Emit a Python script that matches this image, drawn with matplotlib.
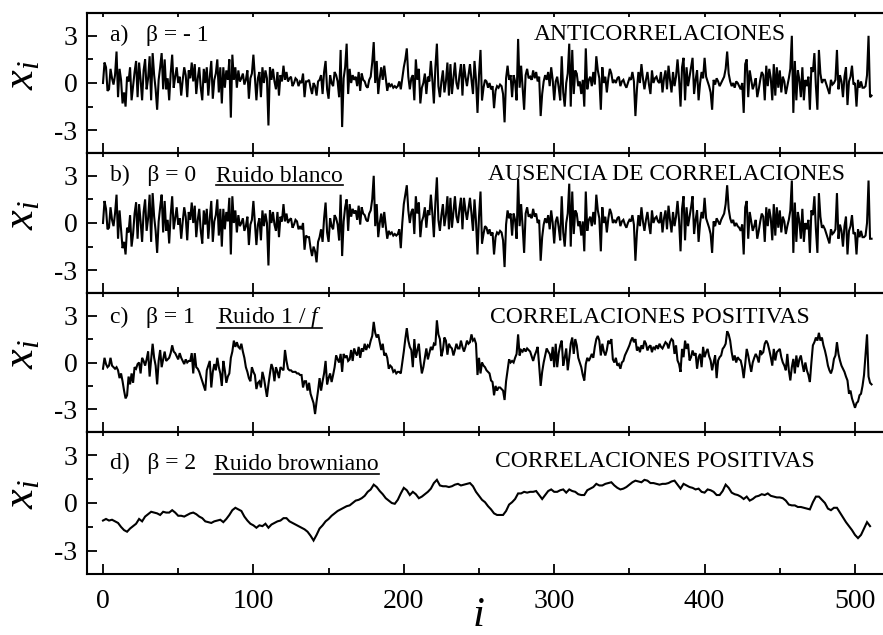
import numpy as np
import matplotlib
matplotlib.use("Agg")
import matplotlib.pyplot as plt
from matplotlib.lines import Line2D
from matplotlib.ticker import MultipleLocator

plt.rcParams["font.family"] = "Liberation Serif"
plt.rcParams["mathtext.fontset"] = "custom"
plt.rcParams["mathtext.rm"] = "Liberation Serif"
plt.rcParams["mathtext.it"] = "Liberation Serif:italic"
plt.rcParams["axes.unicode_minus"] = False

# ---- series (one value per index i = 0..511) ----
anticorr = [
    0.0, 1.3, 1.0, -0.5, -0.4, 0.9, 0.3, -0.1, 0.5, 2.0, -0.9, 0.9, 0.2, -1.3, -0.6, -1.5,
    0.4, 0.1, 1.0, -1.1, -0.2, 0.7, 1.4, -0.9, 1.3, 0.2, -1.1, 0.8, 1.5, -0.4, 0.3, 1.7,
    -1.1, 1.9, 0.5, -0.4, -1.7, 0.2, 1.0, 1.9, -0.4, 1.5, -0.4, 0.3, -1.1, 0.6, 1.8, -0.3,
    0.4, 1.0, 0.0, 0.4, -0.8, 0.2, 1.0, 0.5, -0.9, 0.8, 0.3, 1.3, 0.1, 1.2, -0.7, 0.3,
    1.0, -0.3, -1.1, 0.9, 0.0, 1.0, -0.8, 0.4, 1.4, -1.0, 0.2, 0.6, 1.5, -0.6, 1.0, -1.3,
    1.0, -0.3, 0.8, 0.2, 1.5, -2.2, 1.8, 0.2, 1.0, -0.3, 0.8, 0.1, 0.3, 0.6, -0.1, 0.2,
    0.8, -1.0, 0.3, 0.6, 1.8, 0.4, -1.1, 0.3, 0.7, -0.9, 1.0, 0.0, 0.8, 0.3, -2.7, 1.0,
    0.2, 0.9, 0.1, -0.4, 0.7, -0.8, 0.5, 0.1, 1.1, 0.2, 0.7, 0.1, 0.3, 0.4, -0.2, 0.0,
    0.3, 0.2, -0.2, 0.1, 0.0, 0.6, -0.9, 0.1, 0.1, 0.2, -0.3, -0.7, 0.0, -0.2, -0.8, 0.1,
    0.2, 0.5, -0.7, 0.7, 1.4, -0.4, -1.0, 0.5, 0.0, -0.2, 0.7, 0.5, 0.1, -0.9, 2.1, -2.8,
    0.3, 1.0, 2.5, -0.7, 0.9, 0.0, 0.5, 0.2, 0.4, -0.2, 0.7, -0.5, 0.6, 0.2, 0.1, -0.2,
    -0.3, 0.2, 0.4, 1.3, 2.6, 0.0, 1.4, -0.7, 0.3, 1.0, 0.2, 1.1, 0.3, -0.5, 0.0, -0.2,
    -0.1, -0.3, -0.2, -0.3, -0.2, 0.1, -0.4, 0.3, 1.0, 1.5, 2.2, 0.4, -0.4, 0.3, 0.5, -1.1,
    1.5, 0.2, 0.9, -1.3, -0.3, 0.0, 0.6, -0.7, 0.4, 0.1, 1.4, 0.2, -1.3, 1.0, 2.5, -0.2,
    -0.9, 0.1, 0.8, -0.6, 0.1, 1.3, -0.8, 1.2, -0.7, 0.3, 1.3, 0.0, -0.4, 0.5, 1.2, -0.8,
    1.2, 0.4, -0.2, 0.5, 1.2, 0.2, -0.7, 1.4, 0.2, -1.9, 0.5, 2.1, -1.1, -0.3, 0.2, 0.1,
    -0.3, 0.0, -0.4, -0.2, -1.6, -0.5, -0.2, -0.3, -0.1, -0.2, -0.7, -2.5, 0.3, 1.1, 0.2, 0.5,
    -0.9, 0.5, 0.1, -1.1, 2.8, -0.3, 1.1, -0.3, -1.7, 0.5, 0.9, 0.3, 0.4, 0.2, 0.8, 0.3,
    0.7, 0.1, 0.4, -2.1, -0.7, 0.1, 0.5, 0.2, 0.7, -0.2, 1.0, 0.2, -1.1, 0.1, 0.4, -0.3,
    -1.1, 1.7, -0.6, -1.5, 0.0, 0.6, 2.5, -1.5, 2.1, -0.7, 0.8, 0.6, -0.2, 0.1, -0.7, 0.2,
    -1.5, 2.2, -0.4, 0.2, 0.4, -0.2, 0.7, -0.1, 1.7, 0.8, 0.3, -1.7, 1.0, 0.0, 0.4, -0.6,
    0.3, 0.9, 0.6, 0.0, 0.2, 0.0, 0.3, 0.4, -0.2, 0.1, 0.2, -0.1, -0.3, 0.0, 0.3, 0.2,
    0.7, 0.1, -2.1, -0.4, 0.7, 0.0, 1.2, 0.3, -0.4, 0.2, 0.7, -0.1, -0.7, 0.8, 0.0, 0.3,
    0.4, 0.1, 0.0, 0.7, -0.6, 0.3, 0.8, -0.4, 1.1, 0.2, -0.6, 0.7, -0.2, 0.4, 1.5, 0.3,
    -1.5, 1.0, 1.6, -1.1, 1.0, -0.2, 0.4, 1.0, 1.6, -0.7, 0.2, 0.8, -1.1, 0.0, 0.7, 0.3,
    1.6, 0.4, 0.1, -0.2, -0.6, -1.7, 0.2, -0.1, 0.3, 0.1, -0.2, 0.0, 0.2, 0.4, 0.9, 2.0,
    0.6, 0.1, -0.2, 0.0, -0.3, 0.1, 0.0, -0.2, -0.4, 0.0, -1.9, 1.2, 1.5, -0.9, 0.8, 0.2,
    -0.4, -0.1, 0.3, -0.9, -0.4, 0.2, 0.7, 0.5, -1.1, 1.1, -0.2, 0.9, 0.3, -1.1, 1.2, -0.8,
    1.0, -0.3, 0.8, -0.6, 0.4, 0.1, -0.7, -0.2, 0.3, 0.9, 3.0, -1.9, 1.4, -1.1, 0.8, 0.2,
    -0.9, 1.0, -1.1, 0.2, -0.2, 0.4, -1.7, 1.0, 0.7, 1.9, -0.2, -1.7, 2.1, 0.6, 0.0, 0.2,
    0.2, -0.1, -0.4, -0.7, 0.2, -0.1, 0.0, 0.2, 2.1, -0.4, 0.5, 0.1, -0.9, 0.4, 1.0, -1.4,
    0.1, 0.4, 1.1, -0.1, 0.0, -1.5, 0.2, -0.3, 0.1, -0.3, -0.3, -0.2, 0.5, 3.0, -0.9, -0.8,
]

white = [
    0.0, 1.4, 0.9, -0.4, -0.3, 1.0, 0.2, -0.2, 0.6, 1.8, -1.0, 0.8, -0.4, -1.6, -1.2, -2.0,
    -0.3, -0.6, 0.5, -1.5, -0.7, 0.6, 1.3, -1.0, 1.2, 0.1, -1.2, 0.7, 1.5, -0.5, 0.3, 1.8,
    -1.2, 1.9, 0.4, -0.5, -1.9, 0.1, 1.0, 1.8, -0.6, 1.4, -0.5, 0.2, -1.3, 0.5, 1.7, -0.4,
    0.3, 1.0, -0.1, 0.3, -1.0, 0.1, 1.0, 0.4, -1.1, 0.7, 0.2, 1.3, 0.0, 1.1, -0.9, 0.2,
    0.9, -0.5, -1.3, 0.8, -0.1, 0.9, -1.0, 0.3, 1.4, -1.2, 0.1, 0.5, 1.5, -0.8, 0.9, -1.5,
    0.9, -0.4, 0.7, 0.1, 1.6, -2.0, 1.7, 0.0, 0.8, -0.6, 0.5, -0.2, 0.0, 0.3, -0.5, -0.2,
    0.4, -1.4, -0.1, 0.2, 1.4, 0.0, -1.4, -0.1, 0.3, -1.1, 0.8, -0.2, 0.6, 0.0, -2.7, 0.8,
    0.0, 0.7, -0.1, -0.5, 0.7, -0.9, 0.4, 0.1, 1.2, 0.1, 0.6, 0.0, 0.2, 0.3, -0.3, -0.1,
    0.2, 0.1, -0.4, -0.2, -0.4, 0.0, -1.7, -0.8, -0.9, -0.9, -1.6, -2.1, -1.5, -1.8, -2.5, -1.2,
    -0.9, -0.4, -1.2, 0.3, 1.3, -0.6, -1.2, 0.3, -0.2, -0.4, 0.5, 0.3, -0.1, -1.1, 1.8, -2.1,
    0.1, 1.0, 1.5, -0.5, 1.2, 0.4, 0.9, 0.6, 0.8, 0.2, 1.1, -0.1, 1.0, 0.6, 0.5, 0.2,
    0.1, 0.6, 0.8, 1.5, 3.0, -0.2, 1.2, -0.9, 0.0, 0.6, -0.3, 0.7, -0.2, -1.0, -0.5, -0.7,
    -0.6, -0.8, -0.7, -0.8, -0.7, -0.4, -1.6, 0.0, 1.2, 1.8, 2.4, 0.8, 0.0, 0.7, 0.9, -0.7,
    1.7, 0.6, 1.3, -0.9, 0.1, 0.4, 1.0, -0.3, 0.8, 0.5, 1.8, 0.6, -0.9, 1.3, 2.9, 0.2,
    -0.5, 0.5, 1.2, -0.2, 0.5, 1.7, -0.4, 1.6, -0.3, 0.7, 1.7, 0.4, 0.0, 0.9, 1.6, -0.4,
    1.6, 0.8, 0.2, 0.9, 1.6, 0.6, -0.5, 1.5, 0.1, -2.0, 0.4, 2.0, -1.3, -0.7, -0.2, -0.3,
    -0.7, -0.4, -0.8, -0.6, -2.0, -0.9, -0.6, -0.7, -0.5, -0.6, -1.1, -2.8, -0.1, 0.8, 0.3, 0.6,
    -0.8, 0.6, 0.2, -1.0, 2.8, -0.2, 1.2, -0.2, -1.9, 0.6, 1.0, 0.4, 0.5, 0.3, 0.9, 0.4,
    0.6, 0.0, 0.2, -2.4, -0.9, -0.1, 0.3, 0.0, 0.5, -0.4, 0.8, 0.0, -1.3, 0.1, 0.4, -0.3,
    -1.1, 1.7, -0.6, -1.5, 0.0, 0.6, 2.5, -1.5, 2.0, -0.7, 0.8, 0.6, -0.2, 0.1, -0.8, 0.1,
    -1.8, 2.0, -0.5, 0.2, 0.4, -0.2, 0.7, -0.1, 1.8, 0.8, 0.3, -1.8, 1.0, 0.0, 0.4, -0.6,
    0.3, 0.9, 0.6, 0.0, 0.2, 0.0, 0.3, 0.4, -0.2, 0.1, 0.2, -0.1, -0.3, 0.0, 0.2, 0.1,
    0.5, -0.1, -2.4, -0.6, 0.5, -0.2, 1.0, 0.1, -0.5, 0.2, 0.7, -0.1, -0.7, 0.8, 0.0, 0.3,
    0.4, 0.1, 0.0, 0.7, -0.6, 0.3, 0.8, -0.4, 1.1, 0.2, -0.6, 0.7, -0.2, 0.4, 1.4, 0.2,
    -1.8, 0.9, 1.7, -1.1, 1.0, -0.2, 0.4, 1.0, 1.7, -0.7, 0.2, 0.8, -1.2, 0.0, 0.7, 0.3,
    1.6, 0.3, 0.0, -0.3, -0.7, -1.9, 0.1, -0.2, 0.3, 0.1, -0.1, 0.2, 0.4, 0.6, 1.2, 2.4,
    0.9, 0.3, 0.0, 0.2, -0.2, 0.0, -0.2, -0.3, -0.5, -0.1, -2.0, 1.0, 1.4, -1.0, 0.7, 0.1,
    -0.5, -0.2, 0.2, -1.0, -0.5, 0.1, 0.6, 0.4, -1.2, 1.0, -0.2, 0.9, 0.3, -1.1, 1.2, -0.8,
    1.0, -0.3, 0.8, -0.6, 0.4, 0.1, -0.7, -0.2, 0.2, 0.8, 2.7, -1.9, 1.3, -1.2, 0.7, 0.1,
    -1.0, 0.9, -1.2, 0.0, -0.4, 0.2, -1.9, 0.8, 0.5, 1.7, -0.4, -1.9, 1.9, 0.4, -0.3, -0.2,
    -0.4, -0.7, -1.0, -1.3, -0.4, -0.7, -0.6, -0.4, 1.9, -1.0, -0.1, -0.5, -1.5, -0.2, 0.4, -2.0,
    -0.5, -0.2, 0.5, -0.7, -0.6, -2.0, -0.4, -0.9, -0.5, -0.9, -0.9, -0.8, 0.0, 2.7, -1.0, -1.0,
]

pink = [
    -0.4, 0.3, -0.1, -0.3, -0.2, 0.3, -0.2, -0.3, -0.4, -0.3, -0.5, -1.0, -0.7, -1.2, -1.8, -2.3,
    -2.1, -0.9, -1.4, -0.7, -1.3, -0.3, -0.4, -0.1, 0.0, -0.7, 0.3, 0.1, -0.2, 0.2, 0.7, -0.9,
    0.2, 1.2, 0.3, -0.2, -1.4, 0.1, 0.8, -0.3, 0.2, 0.7, 0.1, 0.2, 0.3, 0.6, 1.1, 0.7,
    0.6, 0.4, 0.2, 0.6, 0.3, 0.1, -0.1, 0.2, 0.0, 0.1, 0.1, 0.6, -0.7, 0.6, -0.3, -0.4,
    -0.6, -0.9, -1.2, -1.5, -1.8, -0.5, -0.2, 0.1, -1.6, -0.6, -0.1, -0.5, 0.3, -0.3, -0.7, -1.5,
    0.1, -0.5, -1.3, -0.9, -0.7, 0.3, 0.7, 1.4, 1.0, 1.3, 1.0, 0.9, 1.2, 0.7, 0.3, -0.3,
    -0.6, -1.0, -1.2, -0.3, -0.6, -0.8, -1.7, -1.3, -1.2, -1.6, -0.6, -1.0, -1.6, -2.2, -1.4, -0.7,
    -0.1, -0.4, -1.2, -0.3, -0.6, -1.0, -0.3, -0.4, -0.5, 0.8, 0.1, -0.4, -0.5, -0.5, -0.6, -0.6,
    -0.6, -0.7, -0.7, -0.8, -0.8, -1.6, -1.2, -1.2, -1.8, -1.3, -2.0, -2.3, -2.6, -3.3, -2.5, -1.8,
    -1.0, -1.8, -1.2, -0.7, 0.1, -1.4, -1.0, -0.7, -1.25, -0.8, -0.3, 0.45, 0.2, 0.0, 0.55, -0.6,
    0.55, 0.3, 0.45, 0.1, 0.2, 0.8, 0.1, 0.9, 0.6, 0.45, 1.0, 0.3, 0.9, 0.7, 1.2, 0.8,
    1.1, 1.0, 1.4, 1.7, 2.6, 1.9, 1.6, 1.8, 1.3, 0.8, 1.2, 0.45, 0.6, 0.3, -0.4, -0.2,
    -0.3, -0.6, -0.5, -0.7, -0.6, -0.6, -0.7, 0.0, 0.7, 1.5, 2.2, 1.4, 1.0, 0.8, -0.3, 1.5,
    0.3, 0.8, 1.2, 0.1, -0.7, -0.3, 0.3, 0.9, 0.2, 0.6, 1.0, 0.8, 1.2, 1.1, 2.7, 1.8,
    1.5, 0.4, 0.8, 1.6, 1.4, 0.5, 1.2, 1.0, 0.9, 0.45, 0.8, 1.2, 0.9, 0.9, 1.4, 1.0,
    0.7, 1.0, 1.4, 1.2, 1.3, 1.8, 1.4, 1.5, 1.2, -0.8, 0.3, -0.7, 0.0, -0.2, -0.3, -0.5,
    -0.6, -0.7, -1.15, -1.25, -2.1, -1.5, -1.8, -1.6, -1.6, -1.7, -1.8, -2.4, -1.2, -0.5, 0.2, 0.0,
    0.1, 0.0, 0.3, 0.55, 1.8, 0.45, 0.8, 0.7, 0.9, 0.7, 0.9, 0.8, 0.7, 0.4, 0.1, 0.45,
    0.7, 1.0, -0.2, -1.5, -0.6, 0.0, 0.45, 0.9, 0.7, 0.55, 0.1, 1.0, -0.3, 1.2, -0.3, 0.6,
    1.1, 1.4, -0.2, 0.3, 0.9, -0.5, 0.3, 1.2, 1.6, 0.55, 1.5, 1.1, 0.3, 0.0, -0.3, -0.8,
    -1.15, -0.1, 0.3, 0.1, 0.3, 0.55, 0.3, 1.0, 1.5, 1.7, 1.4, 0.45, 1.2, 0.7, 0.45, 0.8,
    1.4, 1.2, 1.5, 0.2, 0.0, 0.3, -0.2, -0.1, -0.4, 0.0, 0.1, 0.45, 0.66, 0.87, 1.1, 1.4,
    1.6, 1.3, 1.5, 0.77, 1.0, 0.66, 1.1, 0.87, 1.4, 1.2, 0.77, 1.0, 1.1, 0.66, 1.0, 0.87,
    1.1, 0.87, 1.2, 1.0, 0.9, 1.1, 1.3, 1.2, 0.9, 1.3, 1.5, 1.4, 0.55, 1.1, 0.13, -0.1,
    -0.6, 0.87, 0.34, 1.4, 0.87, 1.2, 0.13, 0.34, 0.77, 0.45, 0.6, -0.4, 0.34, 0.55, -0.3, 1.0,
    0.34, 0.66, 0.87, 0.4, 0.13, -0.5, 0.0, 0.45, -1.0, 0.13, 0.34, 0.45, 0.87, 1.0, 1.2, 2.0,
    1.8, 1.4, 0.66, 0.13, 0.45, 0.0, 0.34, 0.2, 0.13, -0.3, -1.0, -0.1, 0.87, 0.45, -0.1, -0.6,
    0.0, 0.3, 0.55, 0.34, 0.0, 0.77, 0.55, 0.66, 1.2, 1.4, 1.2, 0.8, 0.34, -0.2, 0.87, 0.13,
    0.66, 0.77, 0.87, 0.34, 0.0, -0.2, -0.5, 0.55, -0.5, -1.15, -0.3, 0.23, -0.7, 0.45, -0.3, 0.2,
    0.45, -0.1, -0.6, 0.0, -0.5, -0.8, -1.25, 0.0, 1.1, 1.3, 1.6, 1.4, 1.9, 1.4, 1.6, 1.1,
    0.77, 0.34, -0.2, -0.5, -0.7, -0.4, 0.23, 0.45, 1.3, 0.55, 0.13, -0.2, -0.4, -0.6, -0.9, -1.15,
    -2.0, -1.8, -2.3, -2.6, -2.9, -2.6, -2.5, -2.1, -2.0, -1.5, -0.8, 0.5, 1.8, -0.9, -1.3, -1.4,
]

# brownian series, read at every second index (i = 0, 2, ..., 510)
brown = [
    -1.1, -1.0, -1.1, -1.05, -1.15, -1.25, -1.5, -1.7, -1.8, -1.6, -1.45, -1.3, -1.0, -1.15, -0.85, -0.7,
    -0.55, -0.6, -0.65, -0.75, -0.55, -0.6, -0.6, -0.45, -0.6, -0.8, -0.8, -0.85, -0.75, -0.65, -0.6, -0.7,
    -0.85, -0.95, -1.15, -1.2, -1.25, -1.15, -1.1, -1.05, -1.2, -1.0, -0.75, -0.45, -0.3, -0.4, -0.5, -0.85,
    -1.1, -1.3, -1.4, -1.55, -1.4, -1.45, -1.3, -1.55, -1.35, -1.25, -1.15, -1.1, -0.95, -0.95, -1.15, -1.25,
    -1.35, -1.45, -1.55, -1.65, -1.8, -2.05, -2.35, -2.0, -1.6, -1.4, -1.15, -1.0, -0.8, -0.65, -0.5, -0.4,
    -0.3, -0.2, -0.15, 0.0, 0.15, 0.2, 0.3, 0.45, 0.7, 0.85, 1.15, 1.0, 0.75, 0.55, 0.3, 0.15,
    0.0, -0.05, 0.2, 0.6, 0.95, 0.8, 0.5, 0.7, 0.55, 0.3, 0.4, 0.55, 0.7, 0.9, 1.25, 1.45,
    1.1, 1.05, 1.05, 1.0, 1.05, 1.15, 1.2, 1.1, 1.15, 1.2, 1.25, 1.05, 0.7, 0.45, 0.2, 0.05,
    -0.2, -0.4, -0.65, -0.75, -0.75, -0.75, -0.5, -0.1, 0.05, 0.25, 0.6, 0.6, 0.7, 0.65, 0.7, 0.7,
    0.75, 0.5, 0.25, 0.5, 0.75, 0.85, 0.7, 0.7, 0.8, 0.85, 0.65, 0.85, 0.75, 0.7, 0.55, 0.5,
    0.5, 0.8, 0.9, 1.0, 1.2, 1.1, 1.1, 1.2, 1.25, 1.3, 1.1, 0.95, 0.85, 0.9, 1.0, 1.15,
    1.3, 1.4, 1.35, 1.3, 1.45, 1.4, 1.25, 1.25, 1.2, 1.15, 1.2, 1.2, 1.25, 1.35, 1.4, 1.15,
    0.9, 1.2, 1.1, 1.0, 0.95, 0.85, 0.9, 0.7, 0.65, 0.85, 0.8, 0.7, 0.5, 0.5, 0.75, 1.15,
    0.95, 0.65, 0.55, 0.5, 0.4, 0.25, 0.4, 0.15, 0.25, 0.4, 0.45, 0.55, 0.5, 0.6, 0.45, 0.4,
    0.35, 0.35, 0.3, 0.15, -0.1, -0.15, -0.15, -0.25, -0.25, -0.3, -0.35, -0.4, 0.05, 0.4, 0.4, 0.2,
    0.0, -0.35, -0.45, -0.3, -0.3, -0.6, -0.9, -1.2, -1.45, -1.7, -2.0, -2.2, -2.0, -1.6, -1.2, -1.45,
]

x_ticks = [0, 100, 200, 300, 400, 500]
y_ticks = [-3, 0, 3]

panels = [
    dict(idx=np.arange(len(anticorr)), y=anticorr, label="a)   \u03b2 = - 1", noise=None,
         desc="ANTICORRELACIONES"),
    dict(idx=np.arange(len(white)), y=white, label="b)   \u03b2 = 0", noise="Ruido blanco",
         desc="AUSENCIA DE CORRELACIONES"),
    dict(idx=np.arange(len(pink)), y=pink, label="c)   \u03b2 = 1", noise="Ruido 1 / $f$",
         desc="CORRELACIONES POSITIVAS"),
    dict(idx=np.arange(0, 2 * len(brown), 2), y=brown, label="d)   \u03b2 = 2",
         noise="Ruido browniano", desc="CORRELACIONES POSITIVAS"),
]

# ---- layout (pixels) ----
W, H = 883, 635
LEFT, RIGHT = 87, 896
X0_PX, PX_PER_UNIT = 103, 1.504
frames = [(13, 153), (153, 293), (293, 432), (432, 574)]
label_base = [41.5, 181.5, 323, 469.5]
noise_x = [None, 216, 217, 214]
underline_y = [None, 184.5, 327.5, 473.5]
desc_center = [(660, 39.5), (666, 180), (650, 323), (655, 467)]

fig = plt.figure(figsize=(W / 100, H / 100), dpi=100)
xlim = ((LEFT - X0_PX) / PX_PER_UNIT, (RIGHT - X0_PX) / PX_PER_UNIT)

noise_texts = []
for k, (p, (top, bot)) in enumerate(zip(panels, frames)):
    ax = fig.add_axes([LEFT / W, 1 - bot / H, (RIGHT - LEFT) / W, (bot - top) / H])
    ax.plot(p["idx"], p["y"], color="black", lw=1.5, solid_joinstyle="miter")
    ax.set_xlim(*xlim)
    ax.set_ylim(-4.45, 4.45)
    ax.set_xticks(x_ticks)
    ax.xaxis.set_minor_locator(MultipleLocator(50))
    ax.set_yticks(y_ticks)
    ax.yaxis.set_minor_locator(MultipleLocator(1.5))
    ax.tick_params(which="both", direction="in", width=1.3, top=False, right=False)
    ax.tick_params(which="major", length=7.5)
    ax.tick_params(which="minor", length=4)
    ax.tick_params(axis="y", labelsize=20, pad=7)
    ax.tick_params(axis="x", labelsize=20, pad=11)
    if k < 3:
        ax.tick_params(axis="x", labelbottom=False)
    for s in ax.spines.values():
        s.set_linewidth(1.5)
    top_ax = ax.secondary_xaxis("top")
    top_ax.set_xticks(x_ticks)
    top_ax.xaxis.set_minor_locator(MultipleLocator(50))
    top_ax.tick_params(which="both", direction="in", length=3.2, width=1.3, labeltop=False)
    top_ax.spines["top"].set_linewidth(1.5)

    ax.set_ylabel(r"$x_i$", fontsize=32, labelpad=0)
    ax.yaxis.set_label_coords((42 - LEFT) / (RIGHT - LEFT), 0.56)

    fig.text(110 / W, 1 - label_base[k] / H, p["label"], fontsize=17,
             ha="left", va="baseline")
    if p["noise"]:
        t = fig.text(noise_x[k] / W, 1 - label_base[k] / H, p["noise"], fontsize=17,
                     ha="left", va="baseline")
        noise_texts.append((t, underline_y[k]))
    cx, cy = desc_center[k]
    fig.text(cx / W, 1 - cy / H, p["desc"], fontsize=17, ha="center", va="baseline")

fig.text(478 / W, 1 - 616 / H, "$i$", fontsize=31, ha="center", va="center")

# underline the noise names
fig.canvas.draw()
renderer = fig.canvas.get_renderer()
for t, uy in noise_texts:
    bb = t.get_window_extent(renderer)
    fig.add_artist(Line2D([bb.x0 / W, bb.x1 / W], [1 - uy / H, 1 - uy / H],
                          transform=fig.transFigure, color="black", lw=1.2))

fig.savefig("out.png", dpi=100)
